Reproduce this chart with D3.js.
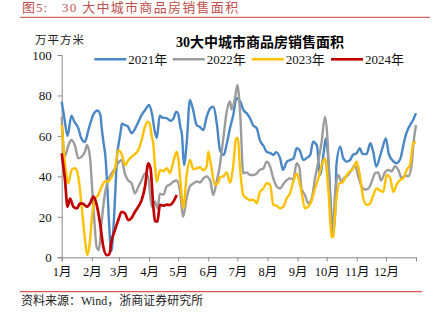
<!DOCTYPE html>
<html><head><meta charset="utf-8">
<script src="https://cdn.jsdelivr.net/npm/d3@7/dist/d3.min.js"></script>
<style>
body{margin:0;background:#fff;}
text{font-family:"Liberation Serif","Noto Sans CJK SC",serif;}
</style></head>
<body><svg id="c" width="434" height="323"></svg>
<script>
const monthLabels=["1月","2月","3月","4月","5月","6月","7月","8月","9月","10月","11月","12月"];
const monthStarts=[0,31,59,90,120,151,181,212,243,273,304,334,365];
const yTicks=[0,20,40,60,80,100];
const seriesNames=["2021年","2022年","2023年","2024年"];
const seriesColors=["#4a87c6","#9c9c9c","#ffc000","#c00000"];

const s2021=[[0,77],[3,68],[6,60],[10,70],[13,67],[17,64],[20,59],[24,57],[27,62],[30,67],[33,71],[37,72.6],[40,70],[41,65],[43,57],[45,50],[47,35],[49,15],[51,3],[53,12],[55,30],[57,50],[59,57],[61,63],[62,66],[65,65.4],[68,64.8],[72,61.3],[75,63],[79,67],[82,70],[87,73.6],[90,75.3],[93,71],[96,62],[98,59],[101,70],[104,69],[108,68.8],[112,67.5],[115,68.5],[118,72],[120,71],[122,65],[124,60],[126,45.6],[129,58],[132,77.8],[135,73.6],[139,65.4],[142,64.5],[146,62.9],[149,68.8],[153,73.6],[156,74.4],[160,65.4],[163,53],[167,50.6],[170,56],[173,63],[177,71],[180,78.6],[184,77],[187,73],[191,71],[194,68.7],[197,65.4],[201,63.7],[204,58],[208,55],[211,52.2],[215,51.5],[218,50.6],[221,52],[225,48.9],[228,43.2],[232,47.3],[235,48],[239,49],[242,53.9],[245,53],[249,48.1],[252,49],[256,50.6],[259,57.1],[263,55],[266,40.7],[270,52.2],[272,58.8],[275,46],[278,20],[280,13],[282,25],[283,45.6],[287,54.7],[290,49],[294,47.3],[297,48],[300,50.6],[304,51.5],[307,53.9],[310,51],[314,51],[318,56.4],[321,52],[324,44.8],[328,50],[331,55],[334,58.8],[337,51],[342,47.3],[345,46.5],[349,48.9],[352,55.5],[355,61.3],[359,65.4],[362,67.9],[365,71.2]];

const s2022=[[0,69.5],[3,49.7],[7,55.5],[10,58],[14,54.7],[17,48.9],[20,49.5],[24,52.2],[26,55.5],[29,50],[31.5,33.3],[33.6,18.4],[36,5.2],[38.4,3.6],[41,16.8],[44.6,31.6],[48,38.2],[51.5,41.5],[55,44],[58,46.5],[61.8,48.1],[65,41.5],[68.5,38],[72,36.6],[75.5,31.6],[79,35],[82.4,38.2],[85.8,41.5],[89,40],[92.7,25],[96,27.5],[99,24],[101,31.5],[105,31],[108,35],[111.6,36],[115,37.4],[118.5,38],[122,32.4],[125,20],[129,30],[132,35],[135.6,36.5],[139,37.5],[142.5,37],[146,39],[149,40],[153,38],[156,30.8],[159.7,37.6],[163,45.6],[166.5,58.8],[170,72],[173.4,77],[175,73],[178.5,78.6],[181,85.2],[184,70],[187,41.5],[190.6,42],[194,40.7],[197.4,40.7],[201,41.5],[204,43.2],[208,44],[211,47.3],[214.6,45],[218,39],[221.5,35],[225,34],[228,36],[232,38.2],[235,39],[238.6,38.5],[242,46.5],[245,44],[247,34],[250.6,30.8],[254,26.7],[257.5,29],[261,39],[264.3,47.3],[267.8,57.1],[271.2,69.5],[274,57],[276.4,29],[279,10.2],[281.5,30.8],[285,40.7],[288,37.5],[291,39],[295,40.7],[298.8,43.2],[302,45.6],[305.6,40],[309,35],[312.5,33.5],[316,34],[319.4,37.4],[322.8,41.5],[326,42],[329,38],[333,42],[336.5,43.2],[340,42.5],[343.4,45],[347,43],[350.3,39],[353.6,40.5],[357,40],[360.5,45.6],[362.2,55.5],[365,65.4]];

const s2023=[[0,65.4],[3.4,46.5],[6.8,36.6],[10.3,43.2],[13.7,44],[17.1,39.8],[20.6,25],[23.3,11.9],[26.4,1.1],[29.2,8.5],[31.5,21.7],[34.3,28.3],[37.7,31],[41.2,34.9],[44.6,37.5],[48,37.5],[51.5,39.8],[54.9,44],[58.3,53],[61.8,51],[65.2,45.6],[68.6,48],[72.1,49.7],[75.5,51],[78.9,53],[82.4,58],[85.8,64.6],[88.6,67],[90.7,66],[92.7,60],[94.4,56],[96.1,45],[97.9,37.4],[101.3,43.2],[104.7,42.5],[108.2,44],[111.6,41.7],[115,47.3],[118.5,52.2],[120,49],[123.6,30.8],[125.3,24.2],[128.8,40.7],[132.2,48.1],[135.6,43.5],[139.1,44],[142.5,44.5],[145.9,43],[149.4,45],[151,52.2],[154,45],[157.9,35.7],[161.4,37],[163.1,39.6],[166.5,40],[170,42],[173.4,37],[176.8,45.6],[179.6,58.8],[181.5,59],[183.7,44],[187.1,30.8],[190.6,29.2],[194,28.2],[197.4,28.5],[200.9,26.7],[204.3,32.4],[207.7,34],[211.2,36.6],[214.6,36],[218,25.9],[221.5,25.5],[224.9,24.2],[228.3,25],[231.8,29.2],[235.2,31.6],[238.6,37.4],[242.1,41.5],[244.5,38],[247.2,32],[250.6,24.2],[254,25],[257.5,28],[260.9,34],[264.3,38.9],[267.8,45.6],[271.2,48.9],[274.6,34],[278.1,10.2],[279.5,10],[282.6,27.5],[286,36.6],[289.4,37],[293.6,40.7],[297,42.5],[300.4,44],[303.9,47.3],[307.3,40],[310.7,29.2],[314.2,25.9],[317.6,26.5],[321,30.8],[324.5,34],[327.9,33],[331.3,32.4],[334.8,40.7],[338.2,39.5],[341.6,32.4],[345.1,36],[348.5,38.2],[351.9,39],[355.4,43.2],[358.8,45.6],[362.2,56.4],[365,57]];

const s2024=[[0,51.4],[3.4,38.2],[6,25],[8.6,29],[12,25],[15.8,24.2],[19,26.7],[22,26.5],[25.9,25],[29,26.5],[32.6,30],[36,26],[39.5,16.8],[42.9,5.2],[46.4,1.1],[49,1.5],[51.5,8.5],[54.9,13.5],[58.3,18.4],[61.8,22.5],[65.2,21.7],[68.6,18.4],[72,19.5],[75.5,22.5],[78.9,25],[82.4,28.3],[85.8,34.9],[89.2,46.5],[91.5,44],[94.4,25],[96.1,18],[98.5,17.6],[101.3,25.9],[104.7,25.5],[108.2,26],[111.6,25.9],[115,27.5],[118.5,30.8]];

const allSeries=[s2021,s2022,s2023,s2024];

const svg=d3.select("#c");
const x=d3.scaleLinear().domain([0,365]).range([61.7,416]);
const y=d3.scaleLinear().domain([0,100]).range([257.3,55]);

// header
svg.append("text").attr("x",22).attr("y",11.5).attr("fill","#c0504d").attr("font-size",13)
  .attr("style","letter-spacing:1px").text("图5:");
svg.append("text").attr("x",62).attr("y",11.5).attr("fill","#c0504d").attr("font-size",13)
  .attr("style","letter-spacing:1.3px").text("30 大中城市商品房销售面积");
svg.append("line").attr("x1",20).attr("x2",430).attr("y1",17.3).attr("y2",17.3).attr("stroke","#d46a6a").attr("stroke-width",1.3);
// footer
svg.append("line").attr("x1",20).attr("x2",422).attr("y1",291.7).attr("y2",291.7).attr("stroke","#e05050").attr("stroke-width",1.2);
svg.append("text").attr("x",21).attr("y",304.5).attr("fill","#222").attr("font-size",12).text("资料来源：Wind，浙商证券研究所");

// title & unit
svg.append("text").attr("x",260).attr("y",47).attr("text-anchor","middle").attr("font-size",14).attr("font-weight","bold").attr("fill","#000").text("30大中城市商品房销售面积");
svg.append("text").attr("x",35).attr("y",44).attr("font-size",11.5).attr("fill","#222").attr("style","letter-spacing:1px").text("万平方米");

// axes
const yAxis=d3.axisLeft(y).tickValues(yTicks).tickSize(4).tickPadding(6);
const gy=svg.append("g").attr("transform","translate(61.7,0)").call(yAxis);
const xAxis=d3.axisBottom(x).tickValues(monthStarts).tickSize(4).tickFormat((d,i)=>monthLabels[i]||"").tickPadding(6);
const gx=svg.append("g").attr("transform","translate(0,257.3)").call(xAxis);
[gx,gy].forEach(g=>{
  g.select(".domain").attr("stroke","#888");
  g.selectAll(".tick line").attr("stroke","#888");
  g.selectAll(".tick text").attr("fill","#111").attr("font-size",12.5).attr("font-family","'Liberation Serif','Noto Sans CJK SC',serif");
});
gy.selectAll(".tick text").attr("font-size",13);

// lines
const line=d3.line().x(d=>x(d[0])).y(d=>y(d[1])).curve(d3.curveMonotoneX);
allSeries.forEach((s,i)=>{
  svg.append("path").datum(s).attr("d",line).attr("fill","none").attr("stroke",seriesColors[i]).attr("stroke-width",i===3?2.7:2.4).attr("stroke-linejoin","round");
});

// legend
const legX=[94.3,172.7,251.7,331];
seriesNames.forEach((n,i)=>{
  svg.append("line").attr("x1",legX[i]).attr("x2",legX[i]+32).attr("y1",59.3).attr("y2",59.3).attr("stroke",seriesColors[i]).attr("stroke-width",2.6);
  svg.append("text").attr("x",legX[i]+34).attr("y",64).attr("font-size",13).attr("fill","#111").text(n);
});
</script></body></html>
